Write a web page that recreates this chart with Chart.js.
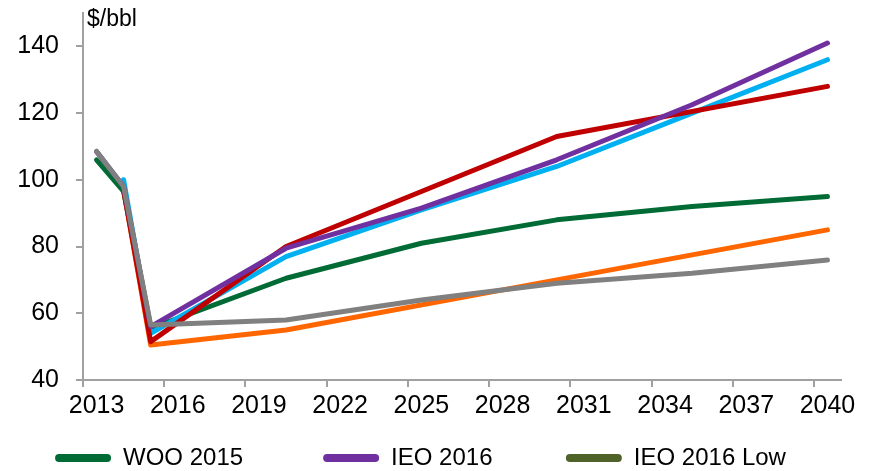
<!DOCTYPE html>
<html>
<head>
<meta charset="utf-8">
<script src="https://cdn.jsdelivr.net/npm/chart.js@4.4.0/dist/chart.umd.min.js"></script>
<style>
  html, body { margin: 0; padding: 0; background: #fff; }
</style>
</head>
<body>
<canvas id="chart" width="879" height="471"></canvas>
<script>
// categories on the x axis (one per year)
const years = ["2013", "2014", "2015", "2016", "2017", "2018", "2019", "2020", "2021", "2022",
  "2023", "2024", "2025", "2026", "2027", "2028", "2029", "2030", "2031", "2032",
  "2033", "2034", "2035", "2036", "2037", "2038", "2039", "2040"];
// years where the outlooks give a value
const keyYears = ["2013", "2014", "2015", "2020", "2025", "2030", "2035", "2040"];

// $/bbl, null where the outlook has no point
const woo2015 = [106, 96.5, 55.5, 70.5, 81, 88, 92, 95];
const ieo2016 = [108.5, 98, 56, 79.5, 91.5, 106, 122.5, 141];
const ieo2016Low = [108.5, 98, 56.5, 58, 64, 69, 72, 76];
const aeo2016 = [null, 100, 54, 77, 91, 104, 120, 136];
const weo2015 = [null, 97, 51.5, 80, null, 113, null, 128];
const weo2015Low = [null, 97, 50.5, 55, null, 70, null, 85];

const yTicks = [40, 60, 80, 100, 120, 140];

const axisGrey = "#a0a0a0";
const font = "'Liberation Sans', Arial, sans-serif";

const toPoints = (vals) => keyYears.map((y, i) => ({ x: y, y: vals[i] }));

const line = (label, vals, color, order) => ({
  label: label,
  data: toPoints(vals),
  borderColor: color,
  backgroundColor: color,
  borderWidth: 5,
  borderCapStyle: "round",
  borderJoinStyle: "round",
  pointRadius: 0,
  tension: 0,
  spanGaps: true,
  order: order,
});

// "$/bbl" label in the top left corner of the plot
const unitLabel = {
  id: "unitLabel",
  afterDraw(chart) {
    const ctx = chart.ctx;
    ctx.save();
    ctx.font = "23px " + font;
    ctx.fillStyle = "#000";
    ctx.textBaseline = "alphabetic";
    ctx.fillText("$/bbl", chart.chartArea.left + 4, 26);
    ctx.restore();
  },
};

// legend: only the first row is visible in the picture
const legendRow = [
  { text: "WOO 2015" + "\u00a0".repeat(9), color: "#006b35" },
  { text: "IEO 2016" + "\u00a0".repeat(8), color: "#7030a0" },
  { text: "IEO 2016 Low", color: "#4f6228" },
];

new Chart(document.getElementById("chart"), {
  type: "line",
  plugins: [unitLabel],
  data: {
    labels: years,
    datasets: [
      line("WOO 2015", woo2015, "#006b35", 4),
      line("IEO 2016", ieo2016, "#7030a0", 1),
      line("IEO 2016 Low", ieo2016Low, "#808080", 0),
      line("AEO 2016", aeo2016, "#00b0f0", 3),
      line("WEO 2015", weo2015, "#c00000", 2),
      line("WEO 2015 Low", weo2015Low, "#ff6600", 5),
    ],
  },
  options: {
    responsive: false,
    animation: false,
    layout: { padding: { top: 13, right: 38, left: 0, bottom: -9 } },
    plugins: {
      tooltip: { enabled: false },
      legend: {
        position: "bottom",
        labels: {
          boxWidth: 56,
          boxHeight: 8,
          padding: 20,
          useBorderRadius: true,
          borderRadius: 4,
          color: "#000",
          font: { family: font, size: 24 },
          generateLabels: () => legendRow.map((item, i) => ({
            text: item.text,
            fillStyle: item.color,
            strokeStyle: item.color,
            lineWidth: 0,
            borderRadius: 4,
            hidden: false,
            datasetIndex: i,
          })),
        },
      },
    },
    scales: {
      x: {
        type: "category",
        offset: true,
        afterFit: (scale) => { scale.height = 46; },
        border: { color: axisGrey, width: 2 },
        grid: {
          offset: true,
          drawOnChartArea: false,
          tickLength: 7,
          lineWidth: 2,
          color: (ctx) => (ctx.index % 3 === 0 ? axisGrey : "rgba(0,0,0,0)"),
        },
        ticks: {
          autoSkip: false,
          maxRotation: 0,
          padding: 4,
          color: "#000",
          font: { family: font, size: 25 },
          callback: (val, i) => (i % 3 === 0 ? years[i] : ""),
        },
      },
      y: {
        min: 40,
        max: 150,
        afterFit: (scale) => {
          scale.width = 83;
          scale.paddingTop = 0;
          scale.paddingBottom = 0;
        },
        afterBuildTicks: (scale) => {
          scale.ticks = yTicks.map((v) => ({ value: v }));
        },
        border: { color: axisGrey, width: 2 },
        grid: {
          drawOnChartArea: false,
          tickLength: 7,
          lineWidth: 2,
          color: axisGrey,
        },
        ticks: {
          padding: 17,
          color: "#000",
          font: { family: font, size: 25 },
        },
      },
    },
  },
});
</script>
</body>
</html>
